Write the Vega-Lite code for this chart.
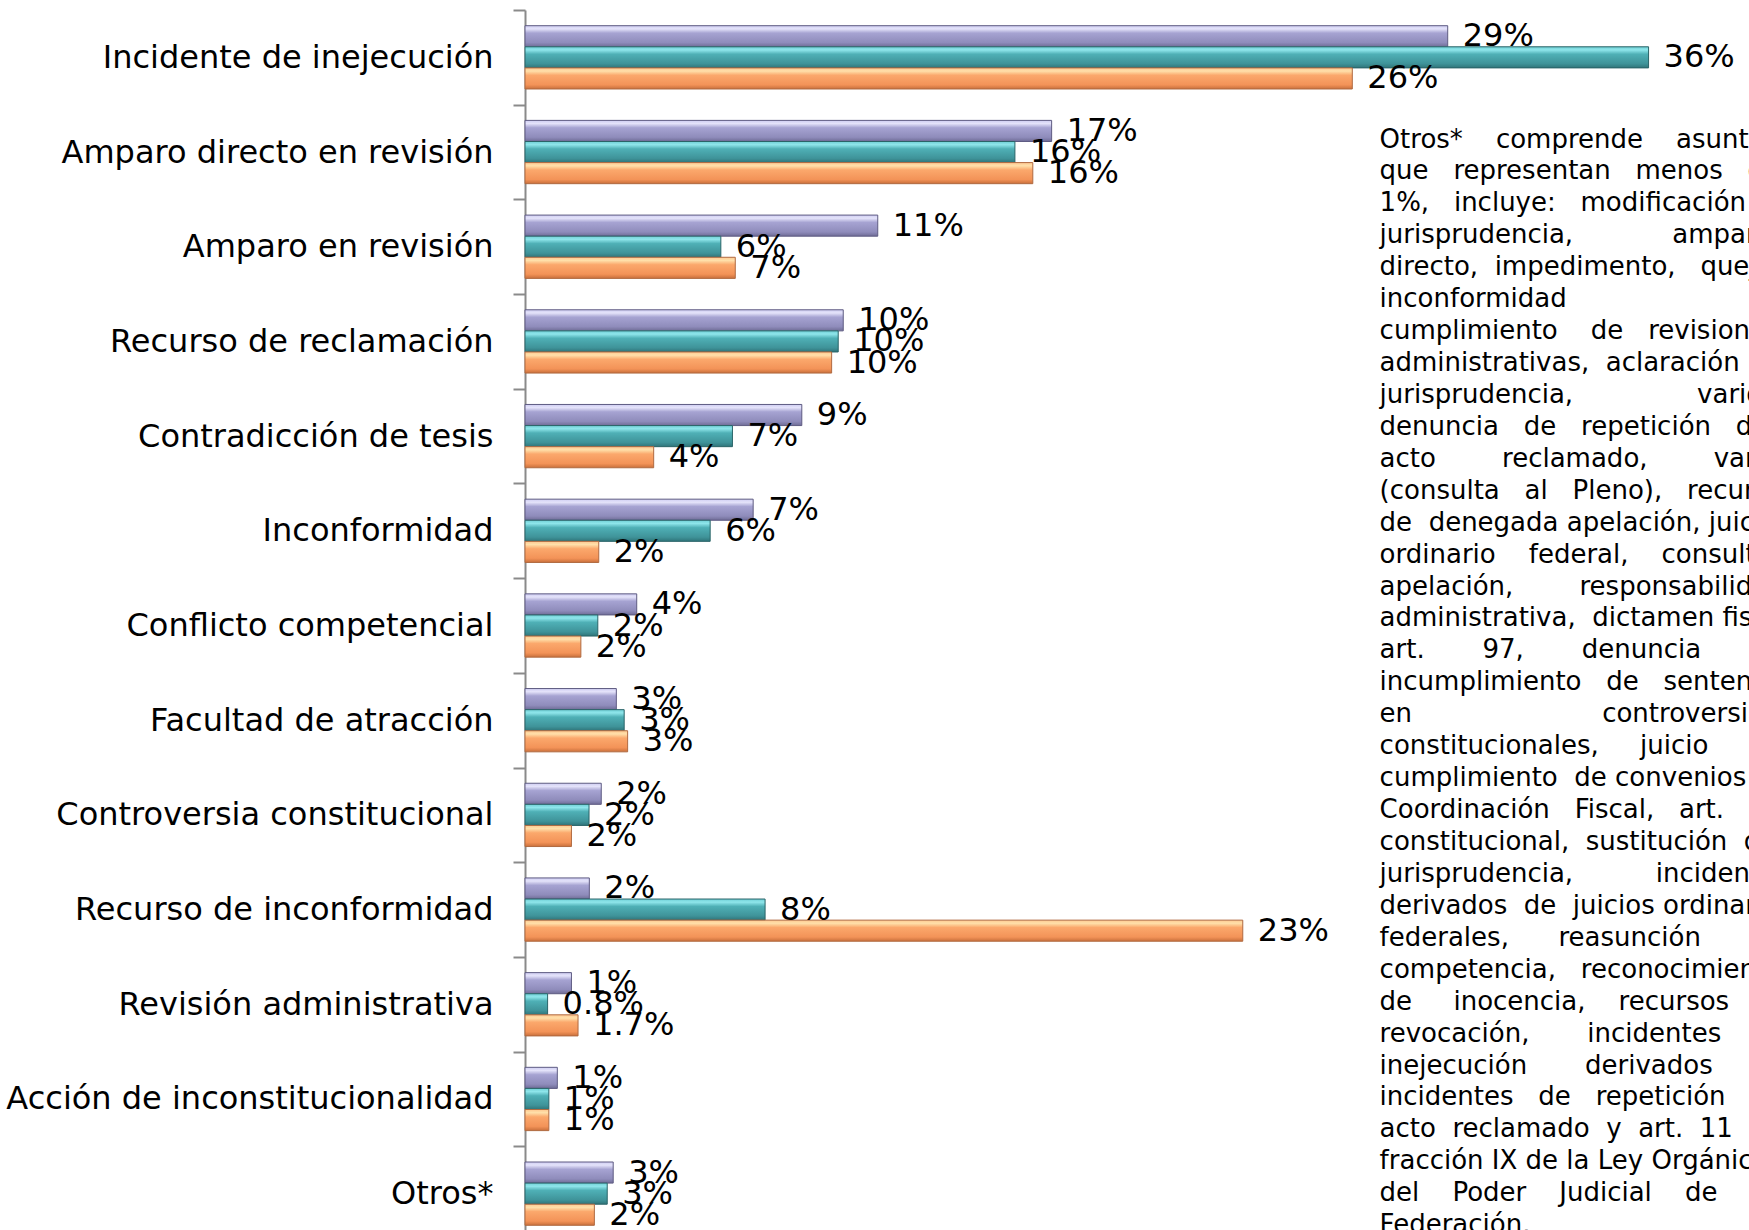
{
  "$schema": "https://vega.github.io/schema/vega-lite/v6.json",
  "width": 1224,
  "height": 1231,
  "autosize": {"type": "none"},
  "padding": {"left": 525, "top": 10, "right": 0, "bottom": -11},
  "background": "white",
  "config": {"view": {"stroke": null}, "font": "DejaVu Sans"},
  "datasets": {
    "asuntos": [
      {"asunto": "Incidente de inejecución", "serie": "Serie 1", "valor": 29.40, "etiqueta": "29%"},
      {"asunto": "Incidente de inejecución", "serie": "Serie 2", "valor": 35.80, "etiqueta": "36%"},
      {"asunto": "Incidente de inejecución", "serie": "Serie 3", "valor": 26.36, "etiqueta": "26%"},
      {"asunto": "Amparo directo en revisión", "serie": "Serie 1", "valor": 16.78, "etiqueta": "17%"},
      {"asunto": "Amparo directo en revisión", "serie": "Serie 2", "valor": 15.61, "etiqueta": "16%"},
      {"asunto": "Amparo directo en revisión", "serie": "Serie 3", "valor": 16.18, "etiqueta": "16%"},
      {"asunto": "Amparo en revisión", "serie": "Serie 1", "valor": 11.24, "etiqueta": "11%"},
      {"asunto": "Amparo en revisión", "serie": "Serie 2", "valor": 6.24, "etiqueta": "6%"},
      {"asunto": "Amparo en revisión", "serie": "Serie 3", "valor": 6.70, "etiqueta": "7%"},
      {"asunto": "Recurso de reclamación", "serie": "Serie 1", "valor": 10.14, "etiqueta": "10%"},
      {"asunto": "Recurso de reclamación", "serie": "Serie 2", "valor": 9.98, "etiqueta": "10%"},
      {"asunto": "Recurso de reclamación", "serie": "Serie 3", "valor": 9.77, "etiqueta": "10%"},
      {"asunto": "Contradicción de tesis", "serie": "Serie 1", "valor": 8.82, "etiqueta": "9%"},
      {"asunto": "Contradicción de tesis", "serie": "Serie 2", "valor": 6.61, "etiqueta": "7%"},
      {"asunto": "Contradicción de tesis", "serie": "Serie 3", "valor": 4.10, "etiqueta": "4%"},
      {"asunto": "Inconformidad", "serie": "Serie 1", "valor": 7.27, "etiqueta": "7%"},
      {"asunto": "Inconformidad", "serie": "Serie 2", "valor": 5.90, "etiqueta": "6%"},
      {"asunto": "Inconformidad", "serie": "Serie 3", "valor": 2.35, "etiqueta": "2%"},
      {"asunto": "Conflicto competencial", "serie": "Serie 1", "valor": 3.56, "etiqueta": "4%"},
      {"asunto": "Conflicto competencial", "serie": "Serie 2", "valor": 2.32, "etiqueta": "2%"},
      {"asunto": "Conflicto competencial", "serie": "Serie 3", "valor": 1.78, "etiqueta": "2%"},
      {"asunto": "Facultad de atracción", "serie": "Serie 1", "valor": 2.91, "etiqueta": "3%"},
      {"asunto": "Facultad de atracción", "serie": "Serie 2", "valor": 3.16, "etiqueta": "3%"},
      {"asunto": "Facultad de atracción", "serie": "Serie 3", "valor": 3.27, "etiqueta": "3%"},
      {"asunto": "Controversia constitucional", "serie": "Serie 1", "valor": 2.43, "etiqueta": "2%"},
      {"asunto": "Controversia constitucional", "serie": "Serie 2", "valor": 2.04, "etiqueta": "2%"},
      {"asunto": "Controversia constitucional", "serie": "Serie 3", "valor": 1.48, "etiqueta": "2%"},
      {"asunto": "Recurso de inconformidad", "serie": "Serie 1", "valor": 2.05, "etiqueta": "2%"},
      {"asunto": "Recurso de inconformidad", "serie": "Serie 2", "valor": 7.65, "etiqueta": "8%"},
      {"asunto": "Recurso de inconformidad", "serie": "Serie 3", "valor": 22.87, "etiqueta": "23%"},
      {"asunto": "Revisión administrativa", "serie": "Serie 1", "valor": 1.48, "etiqueta": "1%"},
      {"asunto": "Revisión administrativa", "serie": "Serie 2", "valor": 0.72, "etiqueta": "0.8%"},
      {"asunto": "Revisión administrativa", "serie": "Serie 3", "valor": 1.69, "etiqueta": "1.7%"},
      {"asunto": "Acción de inconstitucionalidad", "serie": "Serie 1", "valor": 1.03, "etiqueta": "1%"},
      {"asunto": "Acción de inconstitucionalidad", "serie": "Serie 2", "valor": 0.76, "etiqueta": "1%"},
      {"asunto": "Acción de inconstitucionalidad", "serie": "Serie 3", "valor": 0.76, "etiqueta": "1%"},
      {"asunto": "Otros*", "serie": "Serie 1", "valor": 2.81, "etiqueta": "3%"},
      {"asunto": "Otros*", "serie": "Serie 2", "valor": 2.62, "etiqueta": "3%"},
      {"asunto": "Otros*", "serie": "Serie 3", "valor": 2.21, "etiqueta": "2%"}
    ],
    "nota": [
      {"texto": "Otros*\u00a0\u00a0\u00a0\u00a0comprende\u00a0\u00a0\u00a0\u00a0asuntos\nque\u00a0\u00a0\u00a0representan\u00a0\u00a0\u00a0menos\u00a0\u00a0\u00a0del\n1%,\u00a0\u00a0\u00a0incluye:\u00a0\u00a0\u00a0modificación\u00a0\u00a0\u00a0de\njurisprudencia,\u00a0\u00a0\u00a0\u00a0\u00a0\u00a0\u00a0\u00a0\u00a0\u00a0\u00a0\u00a0amparo\ndirecto,\u00a0\u00a0impedimento,\u00a0\u00a0\u00a0queja,\ninconformidad\u00a0\u00a0\u00a0\u00a0\u00a0\u00a0\u00a0\u00a0\u00a0\u00a0\u00a0\u00a0\u00a0\u00a0\u00a0\u00a0\u00a0\u00a0\u00a0\u00a0\u00a0\u00a0\u00a0\u00a0\u00a0por\ncumplimiento\u00a0\u00a0\u00a0\u00a0de\u00a0\u00a0\u00a0revisiones\nadministrativas,\u00a0\u00a0aclaración\u00a0\u00a0de\njurisprudencia,\u00a0\u00a0\u00a0\u00a0\u00a0\u00a0\u00a0\u00a0\u00a0\u00a0\u00a0\u00a0\u00a0\u00a0\u00a0varios,\ndenuncia\u00a0\u00a0\u00a0de\u00a0\u00a0\u00a0repetición\u00a0\u00a0\u00a0del\nacto\u00a0\u00a0\u00a0\u00a0\u00a0\u00a0\u00a0\u00a0reclamado,\u00a0\u00a0\u00a0\u00a0\u00a0\u00a0\u00a0\u00a0varios\n(consulta\u00a0\u00a0\u00a0al\u00a0\u00a0\u00a0Pleno),\u00a0\u00a0\u00a0recurso\nde\u00a0\u00a0denegada\u00a0apelación,\u00a0juicio\nordinario\u00a0\u00a0\u00a0\u00a0federal,\u00a0\u00a0\u00a0\u00a0consulta,\napelación,\u00a0\u00a0\u00a0\u00a0\u00a0\u00a0\u00a0\u00a0responsabilidad\nadministrativa,\u00a0\u00a0dictamen\u00a0fiscal\nart.\u00a0\u00a0\u00a0\u00a0\u00a0\u00a0\u00a097,\u00a0\u00a0\u00a0\u00a0\u00a0\u00a0\u00a0denuncia\u00a0\u00a0\u00a0\u00a0\u00a0\u00a0\u00a0de\nincumplimiento\u00a0\u00a0\u00a0de\u00a0\u00a0\u00a0sentencias\nen\u00a0\u00a0\u00a0\u00a0\u00a0\u00a0\u00a0\u00a0\u00a0\u00a0\u00a0\u00a0\u00a0\u00a0\u00a0\u00a0\u00a0\u00a0\u00a0\u00a0\u00a0\u00a0\u00a0controversias\nconstitucionales,\u00a0\u00a0\u00a0\u00a0\u00a0juicio\u00a0\u00a0\u00a0\u00a0\u00a0de\ncumplimiento\u00a0\u00a0de\u00a0convenios\u00a0de\nCoordinación\u00a0\u00a0\u00a0Fiscal,\u00a0\u00a0\u00a0art.\u00a0\u00a0\u00a0105\nconstitucional,\u00a0\u00a0sustitución\u00a0\u00a0de\njurisprudencia,\u00a0\u00a0\u00a0\u00a0\u00a0\u00a0\u00a0\u00a0\u00a0\u00a0incidentes\nderivados\u00a0\u00a0de\u00a0\u00a0juicios\u00a0ordinarios\nfederales,\u00a0\u00a0\u00a0\u00a0\u00a0\u00a0reasunción\u00a0\u00a0\u00a0\u00a0\u00a0\u00a0de\ncompetencia,\u00a0\u00a0\u00a0reconocimiento\nde\u00a0\u00a0\u00a0\u00a0\u00a0inocencia,\u00a0\u00a0\u00a0\u00a0recursos\u00a0\u00a0\u00a0\u00a0de\nrevocación,\u00a0\u00a0\u00a0\u00a0\u00a0\u00a0\u00a0incidentes\u00a0\u00a0\u00a0\u00a0\u00a0\u00a0\u00a0de\ninejecución\u00a0\u00a0\u00a0\u00a0\u00a0\u00a0\u00a0derivados\u00a0\u00a0\u00a0\u00a0\u00a0\u00a0\u00a0de\nincidentes\u00a0\u00a0\u00a0de\u00a0\u00a0\u00a0repetición\u00a0\u00a0\u00a0del\nacto\u00a0\u00a0reclamado\u00a0\u00a0y\u00a0\u00a0art.\u00a0\u00a011\nfracción\u00a0IX\u00a0de\u00a0la\u00a0Ley\u00a0Orgánica\ndel\u00a0\u00a0\u00a0\u00a0Poder\u00a0\u00a0\u00a0\u00a0Judicial\u00a0\u00a0\u00a0\u00a0de\u00a0\u00a0\u00a0\u00a0la\nFederación."}
    ]
  },
  "layer": [
    {
      "data": {"name": "asuntos"},
      "mark": {"type": "bar", "strokeWidth": 1},
      "encoding": {
        "y": {
          "field": "asunto", "type": "nominal",
          "sort": ["Incidente de inejecución", "Amparo directo en revisión", "Amparo en revisión", "Recurso de reclamación", "Contradicción de tesis", "Inconformidad", "Conflicto competencial", "Facultad de atracción", "Controversia constitucional", "Recurso de inconformidad", "Revisión administrativa", "Acción de inconstitucionalidad", "Otros*"],
          "scale": {"paddingInner": 0, "paddingOuter": 0},
          "axis": {
            "title": null, "labelFont": "DejaVu Sans", "labelFontSize": 32, "labelColor": "#000000",
            "labelPadding": 20, "labelLimit": 0, "tickBand": "extent", "tickSize": 12, "tickWidth": 2,
            "tickColor": "#8a8a8a", "domainColor": "#8a8a8a", "domainWidth": 2, "grid": false
          }
        },
        "yOffset": {
          "field": "serie", "type": "nominal", "sort": ["Serie 1", "Serie 2", "Serie 3"],
          "scale": {"paddingInner": 0, "paddingOuter": 0.744}
        },
        "x": {"field": "valor", "type": "quantitative", "scale": {"domain": [0, 39], "nice": false}, "axis": null},
        "fill": {
          "condition": [
            {"test": "datum.serie === 'Serie 1'", "value": {"gradient": "linear", "x1": 0, "y1": 0, "x2": 0, "y2": 1, "stops": [{"offset": 0, "color": "#cfcdf2"}, {"offset": 0.15, "color": "#e4e3fa"}, {"offset": 0.35, "color": "#a6a3d2"}, {"offset": 0.8, "color": "#8f8cbb"}, {"offset": 1, "color": "#6f6c96"}]}},
            {"test": "datum.serie === 'Serie 2'", "value": {"gradient": "linear", "x1": 0, "y1": 0, "x2": 0, "y2": 1, "stops": [{"offset": 0, "color": "#6fcfd5"}, {"offset": 0.15, "color": "#8fe6eb"}, {"offset": 0.35, "color": "#4fb0b6"}, {"offset": 0.8, "color": "#3f9399"}, {"offset": 1, "color": "#2f7479"}]}}
          ],
          "value": {"gradient": "linear", "x1": 0, "y1": 0, "x2": 0, "y2": 1, "stops": [{"offset": 0, "color": "#ffc890"}, {"offset": 0.15, "color": "#ffe0aa"}, {"offset": 0.35, "color": "#fba86c"}, {"offset": 0.8, "color": "#f39358"}, {"offset": 1, "color": "#c9703c"}]}
        },
        "stroke": {
          "condition": [
            {"test": "datum.serie === 'Serie 1'", "value": "#5e5b82"},
            {"test": "datum.serie === 'Serie 2'", "value": "#2a6468"}
          ],
          "value": "#b06a40"
        }
      }
    },
    {
      "data": {"name": "asuntos"},
      "mark": {"type": "text", "align": "left", "baseline": "middle", "dx": 15, "fontSize": 32, "font": "DejaVu Sans", "color": "#000000"},
      "encoding": {
        "y": {
          "field": "asunto", "type": "nominal",
          "sort": ["Incidente de inejecución", "Amparo directo en revisión", "Amparo en revisión", "Recurso de reclamación", "Contradicción de tesis", "Inconformidad", "Conflicto competencial", "Facultad de atracción", "Controversia constitucional", "Recurso de inconformidad", "Revisión administrativa", "Acción de inconstitucionalidad", "Otros*"]
        },
        "yOffset": {"field": "serie", "type": "nominal", "sort": ["Serie 1", "Serie 2", "Serie 3"]},
        "x": {"field": "valor", "type": "quantitative"},
        "text": {"field": "etiqueta", "type": "nominal"}
      }
    },
    {
      "data": {"name": "nota"},
      "mark": {"type": "text", "align": "left", "baseline": "alphabetic", "fontSize": 26, "lineHeight": 31.93, "lineBreak": "\n", "dy": -4.5, "font": "DejaVu Sans", "color": "#000000"},
      "encoding": {
        "x": {"datum": 27.23},
        "y": {"datum": "Amparo directo en revisión"},
        "text": {"field": "texto", "type": "nominal"}
      }
    }
  ]
}
